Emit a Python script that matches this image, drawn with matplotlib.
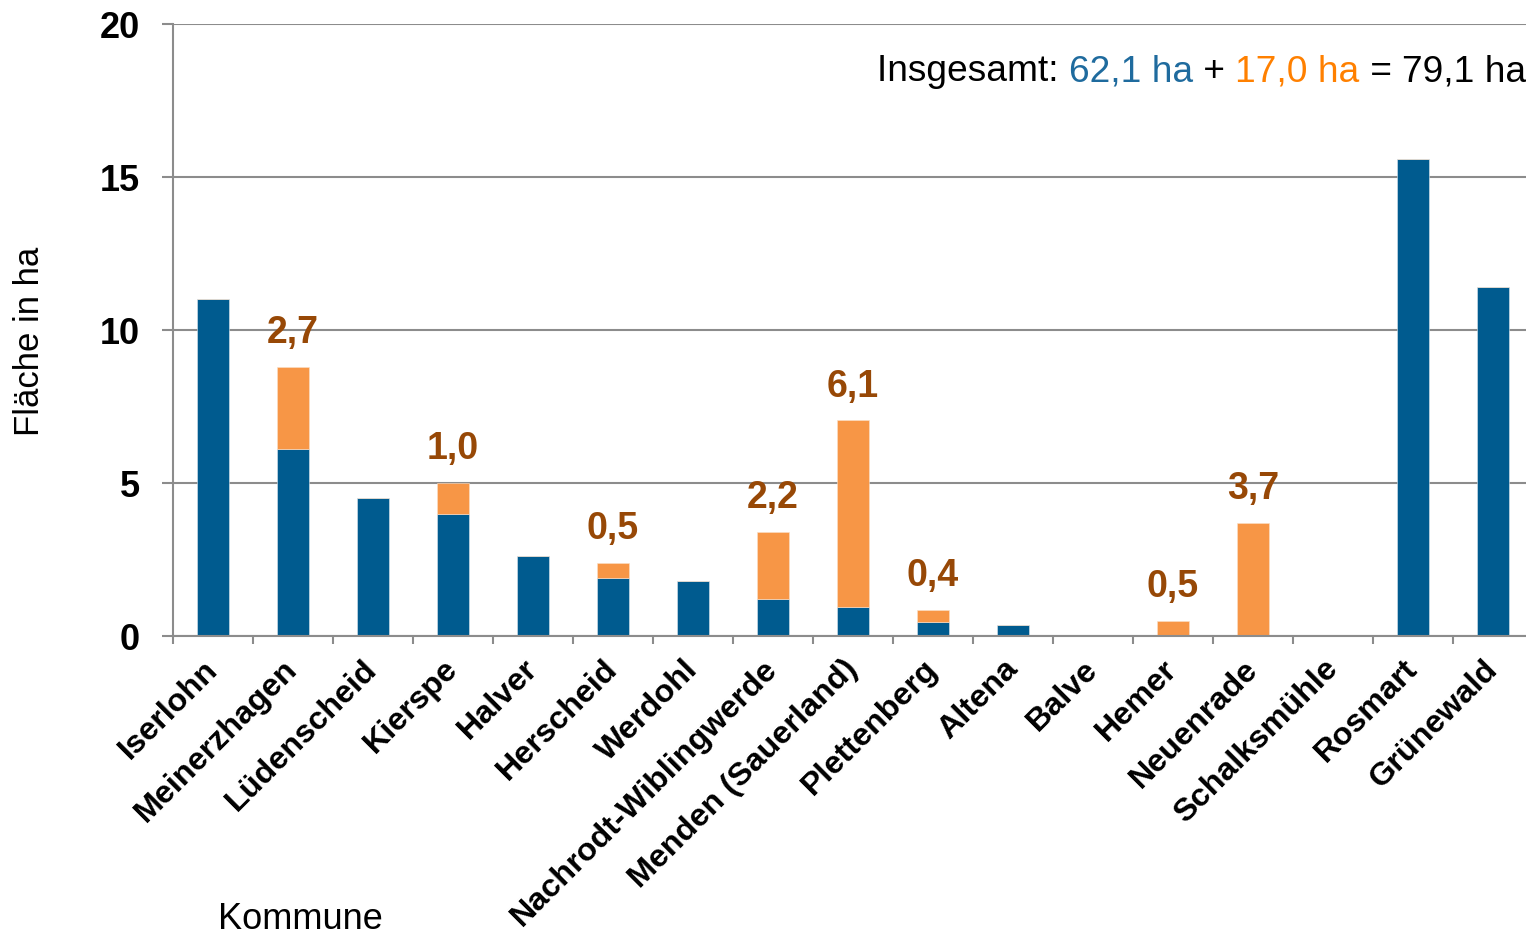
import numpy as np
from matplotlib import pyplot as plt

kommunen = ['Iserlohn', 'Meinerzhagen', 'Lüdenscheid', 'Kierspe', 'Halver', 'Herscheid',
            'Werdohl', 'Nachrodt-Wiblingwerde', 'Menden (Sauerland)', 'Plettenberg', 'Altena',
            'Balve', 'Hemer', 'Neuenrade', 'Schalksmühle', 'Rosmart', 'Grünewald']
flaeche_blau = [11.0, 6.1, 4.5, 4.0, 2.6, 1.9, 1.8, 1.2, 0.95, 0.45, 0.35, 0, 0, 0, 0, 15.6, 11.4]
flaeche_orange = [0, 2.7, 0, 1.0, 0, 0.5, 0, 2.2, 6.1, 0.4, 0, 0, 0.5, 3.7, 0, 0, 0]
summe_blau = '62,1 ha'
summe_orange = '17,0 ha'
summe_gesamt = '79,1 ha'

BLAU = '#005B8F'
ORANGE = '#F79646'
BRAUN = '#974806'
GRAU = '#8C8C8C'

plt.rcParams['font.family'] = ['Liberation Sans', 'DejaVu Sans']

fig = plt.figure(figsize=(15.26, 9.37), dpi=100)
ax = fig.add_axes([173 / 1526, 300 / 937, 1360 / 1526, 612 / 937])

x = np.arange(len(kommunen))
blau = np.array(flaeche_blau)
orange = np.array(flaeche_orange)
ax.bar(x, blau, width=0.4, color=BLAU, edgecolor='#dde6ee', linewidth=0.4, zorder=2)
ax.bar(x, orange, width=0.4, bottom=blau, color=ORANGE, edgecolor='#fbe0c8', linewidth=0.4, zorder=2)

for xi, b, o in zip(x, blau, orange):
    if o > 0:
        ax.annotate(f'{o:.1f}'.replace('.', ','), (xi, b + o), xytext=(0, 12),
                    textcoords='offset points', ha='center', va='bottom',
                    fontsize=27, fontweight='bold', color=BRAUN)

ax.set_xlim(-0.5, len(kommunen) - 0.5)
ax.set_ylim(0, 20)
ax.set_yticks([0, 5, 10, 15, 20])
ax.yaxis.grid(True, color=GRAU, linewidth=1.5)
ax.set_axisbelow(True)
ax.tick_params(axis='y', length=8, width=1.5, color=GRAU, pad=16, labelsize=26)
for lab in ax.get_yticklabels():
    lab.set_fontweight('bold')

ax.set_xticks(np.arange(len(kommunen) + 1) - 0.5, minor=True)
ax.set_xticks(x)
ax.set_xticklabels(kommunen, rotation=45, ha='right', va='center', rotation_mode='anchor',
                   fontsize=23.3, fontweight='bold')
ax.tick_params(axis='x', which='major', length=0, pad=20)
ax.tick_params(axis='x', which='minor', length=6, width=1.5, color=GRAU)

for s in ['top', 'right']:
    ax.spines[s].set_visible(False)
for s in ['left', 'bottom']:
    ax.spines[s].set_color(GRAU)
    ax.spines[s].set_linewidth(1.5)

fig.text(30 / 1526, 1 - 341 / 937, 'Fläche in ha', rotation=90, ha='center', va='center', fontsize=25)
fig.text(300 / 1526, 1 - 920 / 937, 'Kommune', ha='center', va='center', fontsize=26)

# Insgesamt-Zeile in Teilen mit Farben
teile = [('Insgesamt: ', 'black'), (summe_blau, '#1F6B9E'), (' + ', 'black'),
         (summe_orange, '#FF8000'), (' = ', 'black'), (summe_gesamt, 'black')]
t = fig.text(877 / 1526, 1 - 81 / 937, teile[0][0], color=teile[0][1], fontsize=26.7,
             ha='left', va='baseline')
for txt, col in teile[1:]:
    t = ax.annotate(txt, xy=(1, 0), xycoords=t, color=col, fontsize=26.7,
                    ha='left', va='bottom', annotation_clip=False)

plt.savefig('out.png', dpi=100)
